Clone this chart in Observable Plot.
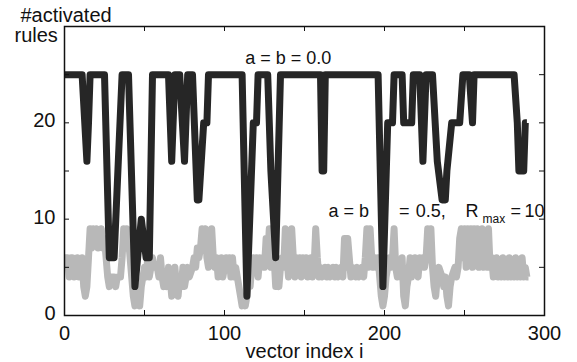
<!DOCTYPE html>
<html>
<head>
<meta charset="utf-8">
<script src="https://cdn.jsdelivr.net/npm/d3@7"></script>
<script src="https://cdn.jsdelivr.net/npm/@observablehq/plot@0.6"></script>
<style>
  html, body { margin: 0; padding: 0; background: #fff; }
</style>
</head>
<body>
<script>
// Series "a = b = 0.0" (black): vertex positions (vector index i) and #activated rules
const blackX = [0,11,14,15,16,25,28,31,36,40,
                44,48,51,53,55,65,67,69,72,75,
                77,80,83,84,87,89,90,111,114,118,
                120,121,127,129,132,135,160,161,162,163,
                196,199,202,205,206,211,212,217,218,222,
                224,226,230,233,236,238,239,242,247,249,
                253,255,256,281,283,284,287,288,289];
const blackY = [25,25,16,20,25,25,6,6,25,25,
                3,10,6,6,25,25,16,25,25,16,
                25,25,12,12,20,20,25,25,2,20,
                20,25,25,15,6,25,25,15,15,25,
                25,3,20,20,25,25,20,20,25,25,
                16,25,25,16,12,12,15,20,20,25,
                25,20,25,25,20,15,15,20,20];

// Series "a = b = 0.5, Rmax = 10" (gray)
const grayX = [0,2,3,4,5,6,7,8,9,10,
  11,12,13,14,15,16,17,18,19,20,
  21,22,23,24,25,26,27,28,29,31,
  32,33,35,36,37,38,39,40,41,42,
  43,44,45,46,47,48,49,50,51,52,
  53,54,55,56,58,59,60,61,62,63,
  64,65,66,67,68,69,70,71,72,73,
  74,75,76,77,78,80,81,82,83,84,
  85,86,87,88,89,90,91,92,93,94,
  95,96,97,98,99,100,101,102,103,104,
  105,106,107,108,109,110,111,112,113,114,
  115,116,117,118,119,120,121,122,123,124,
  125,126,127,128,129,130,131,132,133,134,
  135,136,137,138,139,140,141,142,143,144,
  145,146,147,148,149,150,151,152,153,154,
  155,156,157,158,159,160,161,163,164,165,
  166,168,169,170,171,173,174,175,176,177,
  178,179,180,182,183,184,186,187,188,189,
  190,191,192,193,194,195,196,197,198,199,
  200,201,202,203,204,205,206,207,208,209,
  210,211,212,213,214,215,216,217,218,219,
  220,221,222,223,224,225,226,227,228,229,
  230,231,232,233,234,236,237,238,239,240,
  241,242,244,245,246,247,248,249,250,251,
  252,253,254,255,256,257,258,259,260,261,
  262,263,264,265,266,267,268,269,270,271,
  272,273,274,275,276,277,278,279,280,281,
  282,283,284,285,286,287,288,289,290];
const grayY = [6,6,4,6,6,4,5,6,4,4,
  6,3,2,3,6,9,7,9,8,9,
  7,8,9,7,8,6,4,3,4,4,
  3,4,4,6,9,7,9,8,6,4,
  2,1,2,3,1,3,4,5,4,6,
  4,5,6,5,5,4,6,4,3,4,
  3,5,4,2,3,5,3,2,4,3,
  5,3,4,5,4,5,6,5,7,6,
  7,9,8,9,6,5,6,9,6,5,
  6,4,5,6,4,5,6,5,6,4,
  6,4,5,4,3,2,1,2,1,2,
  4,3,5,6,5,6,4,6,5,6,
  5,8,6,9,5,9,6,3,4,3,
  5,6,5,9,6,4,5,9,6,4,
  6,5,6,4,6,5,6,4,5,6,
  4,5,9,6,4,5,4,5,4,5,
  4,5,4,5,4,5,4,8,5,8,
  6,4,5,4,5,4,5,4,6,9,
  5,9,6,5,6,5,6,4,2,1,
  2,4,5,6,5,6,9,5,4,5,
  4,6,2,1,3,4,6,4,5,6,
  5,4,6,5,6,5,6,9,8,9,
  5,3,2,4,5,4,3,4,2,1,
  3,4,5,4,5,8,9,6,9,5,
  9,6,9,5,9,6,9,5,6,9,
  5,8,5,9,5,6,4,5,6,4,
  5,4,6,4,5,4,6,4,5,4,
  6,4,5,4,6,4,5,4,4];

const xTicks = [0, 50, 100, 150, 200, 250, 300];
const xTickLabels = [0, 100, 200, 300];
const yTicks = [0, 5, 10, 15, 20, 25, 30];
const yTickLabels = [0, 10, 20];

const black = blackX.map((x, i) => ({x, y: blackY[i]}));
const gray = grayX.slice(0, Math.min(grayX.length, grayY.length)).map((x, i) => ({x, y: grayY[i]}));

const W = 577, H = 362, mL = 64, mR = 33, mT = 26, mB = 47;
const pw = W - mL - mR, ph = H - mT - mB;
const font = "'Liberation Sans', Arial, Helvetica, sans-serif";
const ink = "#111";
const ann = {textAnchor: "start", lineAnchor: "middle", fontSize: 18, fill: ink};

const plot = Plot.plot({
  width: W, height: H,
  marginLeft: mL, marginRight: mR, marginTop: mT, marginBottom: mB,
  x: {domain: [0, 300]},
  y: {domain: [0, 30]},
  style: {fontFamily: font, fontSize: "20px", color: ink, background: "#fff"},
  marks: [
    Plot.line(gray, {x: "x", y: "y", stroke: "#b8b8b8", strokeWidth: 7, strokeLinejoin: "round", strokeLinecap: "butt", clip: true}),
    Plot.line(black, {x: "x", y: "y", stroke: "#262626", strokeWidth: 7, strokeLinejoin: "round", strokeLinecap: "butt", clip: true}),
    Plot.frame({stroke: ink, strokeWidth: 1.5}),
    // inward ticks on all four sides
    Plot.ruleX(xTicks, {insetTop: ph - 5, stroke: ink, strokeWidth: 1}),
    Plot.ruleX(xTicks, {insetBottom: ph - 5, stroke: ink, strokeWidth: 1}),
    Plot.ruleY(yTicks, {insetRight: pw - 5, stroke: ink, strokeWidth: 1}),
    Plot.ruleY(yTicks, {insetLeft: pw - 5, stroke: ink, strokeWidth: 1}),
    Plot.axisX({ticks: xTickLabels, tickSize: 0, tickPadding: 10, label: null, fontSize: 20}),
    Plot.axisY({ticks: yTickLabels, tickSize: 0, tickPadding: 9, label: null, fontSize: 20, dy: -2}),
    Plot.text(["vector index i"], {frameAnchor: "bottom", lineAnchor: "middle", dy: 36, fontSize: 20, fill: ink}),
    Plot.text(["#activated"], {frameAnchor: "top-left", textAnchor: "start", lineAnchor: "middle", dx: -44, dy: -11, fontSize: 20, fill: ink}),
    Plot.text(["rules"], {frameAnchor: "top-left", textAnchor: "start", lineAnchor: "middle", dx: -50, dy: 9, fontSize: 20, fill: ink}),
    // series annotations
    Plot.text(["a = b = 0.0"], {...ann, x: () => 113, y: () => 26.7}),
    Plot.text(["a = b"], {...ann, x: () => 165, y: () => 10.78}),
    Plot.text(["="], {...ann, x: () => 209, y: () => 10.78}),
    Plot.text(["0.5,"], {...ann, x: () => 219.5, y: () => 10.78}),
    Plot.text(["R"], {...ann, x: () => 250.6, y: () => 10.78}),
    Plot.text(["max"], {...ann, x: () => 261.3, y: () => 10.0, fontSize: 12}),
    Plot.text(["="], {...ann, x: () => 278.8, y: () => 10.78}),
    Plot.text(["10"], {...ann, x: () => 300, y: () => 10.78, textAnchor: "end"})
  ]
});
document.body.append(plot);
</script>
</body>
</html>
